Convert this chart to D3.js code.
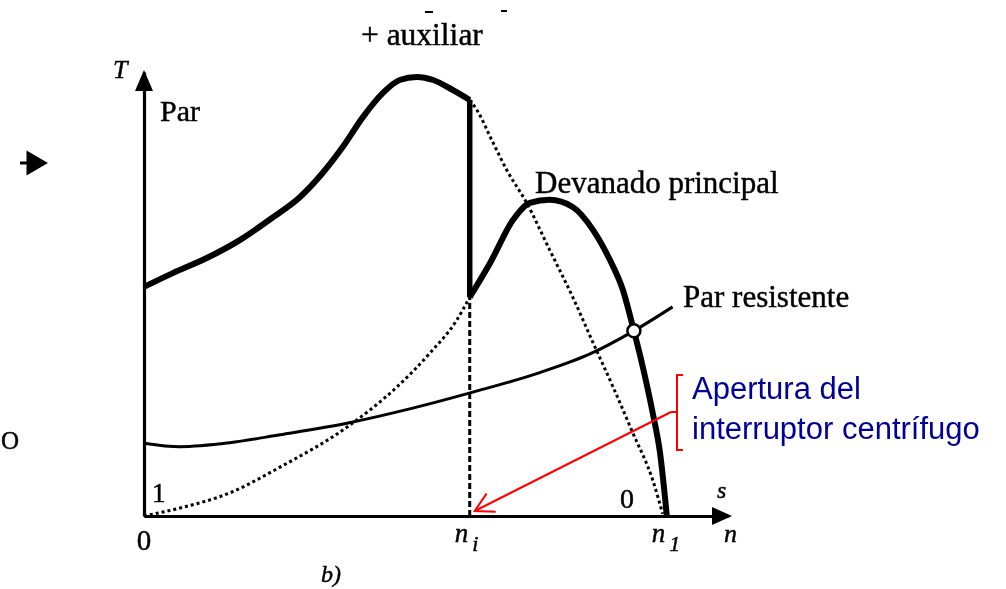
<!DOCTYPE html>
<html>
<head>
<meta charset="utf-8">
<script src="https://cdn.jsdelivr.net/npm/d3@7"></script>
<style>
  body { margin: 0; background: #fff; }
  svg { display: block; }
</style>
</head>
<body>
<svg id="chart" width="1006" height="589"></svg>
<script>
// Torque–speed curves of a split-phase induction motor.
// Speed n is relative to synchronous speed (n1 = 1); torque T in relative units.

const nI = 0.623;   // speed at which the centrifugal switch opens
const n1 = 1.0;     // synchronous speed

// Main + auxiliary winding (solid up to nI)
const speedAux  = [0, 0.055, 0.120, 0.184, 0.247, 0.298, 0.342, 0.380, 0.419, 0.457, 0.489, 0.522, 0.553, 0.591, 0.623];
const torqueAux = [51.6, 54.7, 58.1, 62.2, 67.3, 71.8, 77.3, 83.1, 89.9, 95.3, 98.2, 98.9, 98.2, 95.9, 93.7];

// Main + auxiliary winding continued beyond nI (dotted)
const speedAuxExt  = [0.623, 0.637, 0.665, 0.694, 0.732, 0.776, 0.820, 0.859, 0.897, 0.935, 0.973, 0.992];
const torqueAuxExt = [93.7, 91.4, 84.7, 77.9, 70.5, 59.9, 49.3, 39.0, 29.1, 18.7, 8.1, 0.5];

// Main winding alone, low-speed part (dotted)
const speedMainLow  = [0, 0.069, 0.164, 0.260, 0.388, 0.484, 0.547, 0.598, 0.623];
const torqueMainLow = [0, 1.8, 5.2, 11.0, 20.0, 29.1, 36.7, 44.1, 49.3];

// Main winding alone after the switch opens (solid)
const speedMain  = [0.623, 0.662, 0.706, 0.738, 0.776, 0.820, 0.859, 0.891, 0.916, 0.937, 0.954, 0.973, 0.987, 1.0];
const torqueMain = [49.3, 57.0, 66.7, 70.5, 71.2, 69.6, 64.4, 57.7, 50.9, 41.7, 33.6, 23.2, 14.2, 0];

// Load (resisting) torque
const speedLoad  = [0, 0.069, 0.164, 0.260, 0.388, 0.514, 0.629, 0.757, 0.853, 0.937, 1.011];
const torqueLoad = [16.4, 15.6, 16.5, 18.3, 20.9, 24.3, 27.9, 32.3, 36.5, 41.7, 47.1];

// Operating point (main winding meets load torque)
const opSpeed = 0.937, opTorque = 41.7;

const xMax = 1.117, yMax = 100;

const svg = d3.select("#chart");
const x = d3.scaleLinear().domain([0, xMax]).range([144, 728]);
const y = d3.scaleLinear().domain([0, yMax]).range([516, 72]);

const defs = svg.append("defs");
defs.append("filter").attr("id", "soft")
  .append("feGaussianBlur").attr("stdDeviation", 0.55);

const fig = svg.append("g").attr("filter", "url(#soft)");

const line = d3.line()
  .x(d => x(d[0])).y(d => y(d[1]))
  .curve(d3.curveMonotoneX);
const zip = (a, b) => a.map((v, i) => [v, b[i]]);

// Axes
const xAxis = fig.append("g").attr("transform", `translate(0,${y(0)})`)
  .call(d3.axisBottom(x).tickValues([]).tickSize(0).tickSizeOuter(0));
const yAxis = fig.append("g").attr("transform", `translate(${x(0)},0)`)
  .call(d3.axisLeft(y).tickValues([]).tickSize(0).tickSizeOuter(0));
[xAxis, yAxis].forEach(g => g.select(".domain")
  .attr("stroke", "#000").attr("stroke-width", 3.2));

// Axis arrowheads
fig.append("path")
  .attr("d", `M${x(0)},${y(yMax) - 2} L${x(0) - 9},${y(yMax) + 19} L${x(0) + 9},${y(yMax) + 19} Z`)
  .attr("fill", "#000");
fig.append("path")
  .attr("d", `M${x(xMax) + 4},${y(0)} L${x(xMax) - 16},${y(0) - 9} L${x(xMax) - 16},${y(0) + 9} Z`)
  .attr("fill", "#000");

// Dashed marker at nI
fig.append("line")
  .attr("x1", x(nI)).attr("x2", x(nI))
  .attr("y1", y(0)).attr("y2", y(torqueMain[0]))
  .attr("stroke", "#000").attr("stroke-width", 3).attr("stroke-dasharray", "6,3");

// Dotted curves
[[speedAuxExt, torqueAuxExt], [speedMainLow, torqueMainLow]].forEach(([s, t]) => {
  fig.append("path").attr("d", line(zip(s, t)))
    .attr("fill", "none").attr("stroke", "#000")
    .attr("stroke-width", 3).attr("stroke-dasharray", "3,3");
});

// Load torque
fig.append("path").attr("d", line(zip(speedLoad, torqueLoad)))
  .attr("fill", "none").attr("stroke", "#000").attr("stroke-width", 3);

// Thick motor torque: main+aux up to nI, drop at nI, then main only
fig.append("path").attr("d", line(zip(speedAux, torqueAux)))
  .attr("fill", "none").attr("stroke", "#000").attr("stroke-width", 6)
  .attr("stroke-linejoin", "round");
fig.append("line")
  .attr("x1", x(nI)).attr("x2", x(nI))
  .attr("y1", y(torqueAux[torqueAux.length - 1])).attr("y2", y(torqueMain[0]))
  .attr("stroke", "#000").attr("stroke-width", 5.5);
fig.append("path").attr("d", line(zip(speedMain, torqueMain)))
  .attr("fill", "none").attr("stroke", "#000").attr("stroke-width", 6)
  .attr("stroke-linejoin", "round");

// Operating point
fig.append("circle").attr("cx", x(opSpeed)).attr("cy", y(opTorque)).attr("r", 6.5)
  .attr("fill", "#fff").attr("stroke", "#000").attr("stroke-width", 2.5);

// Figure text
const serif = "'Liberation Serif', 'Times New Roman', serif";
const txt = (tx, ty, s, size, italic) => fig.append("text")
  .attr("x", tx).attr("y", ty).text(s)
  .attr("font-family", serif).attr("font-size", size)
  .attr("font-style", italic ? "italic" : "normal")
  .attr("fill", "#000").attr("stroke", "#000").attr("stroke-width", 0.45);

txt(113, 78, "T", 26, true);
txt(160, 121, "Par", 30);
txt(361, 45, "+ auxiliar", 31.5);
txt(535, 193, "Devanado principal", 31);
txt(683, 307, "Par resistente", 31);
txt(152, 502, "1", 27);
txt(x(0), 550, "0", 29).attr("text-anchor", "middle");
txt(620, 508, "0", 28);
txt(717, 498, "s", 24, true);
txt(724, 542, "n", 26, true);
txt(321, 582, "b)", 24, true);

// Tick labels with subscripts
const xTickLabels = [{ v: nI, base: "n", sub: "i" }, { v: n1, base: "n", sub: "1" }];
xTickLabels.forEach(d => {
  const t = fig.append("text").attr("x", x(d.v) - 15).attr("y", 542)
    .attr("font-family", serif).attr("font-size", 27).attr("font-style", "italic")
    .attr("stroke", "#000").attr("stroke-width", 0.45);
  t.append("tspan").text(d.base);
  t.append("tspan").attr("dx", 4).attr("dy", 9).attr("font-size", 22).text(d.sub);
});

// Stray marks at the top edge and on the left side
fig.append("line").attr("x1", 425).attr("x2", 433).attr("y1", 12).attr("y2", 12)
  .attr("stroke", "#000").attr("stroke-width", 2);
fig.append("line").attr("x1", 501).attr("x2", 507).attr("y1", 11).attr("y2", 11)
  .attr("stroke", "#000").attr("stroke-width", 2);
fig.append("path").attr("d", "M20,163 H30 M28,153 L45,163 L28,173 Z")
  .attr("fill", "#000").attr("stroke", "#000").attr("stroke-width", 3);
txt(1, 449, "O", 25);

// Annotation: centrifugal switch opening
const red = "#ff0000";
const ann = svg.append("g");
ann.append("path").attr("d", "M683,375 H677 V450 H683 M677,412 H671")
  .attr("fill", "none").attr("stroke", red).attr("stroke-width", 2);
const tip = [x(nI) + 5, y(0) - 5];
const from = [671, 412];
ann.append("line").attr("x1", from[0]).attr("y1", from[1]).attr("x2", tip[0]).attr("y2", tip[1])
  .attr("stroke", red).attr("stroke-width", 2);
const ang = Math.atan2(from[1] - tip[1], from[0] - tip[0]);
const arm = 21, spread = 29 * Math.PI / 180;
ann.append("path")
  .attr("d", `M${tip[0] + arm * Math.cos(ang - spread)},${tip[1] + arm * Math.sin(ang - spread)} L${tip[0]},${tip[1]} L${tip[0] + arm * Math.cos(ang + spread)},${tip[1] + arm * Math.sin(ang + spread)}`)
  .attr("fill", "none").attr("stroke", red).attr("stroke-width", 2);

const annLines = ["Apertura del", "interruptor centrífugo"];
ann.selectAll("text.note").data(annLines).join("text").attr("class", "note")
  .attr("x", 692).attr("y", (d, i) => 399 + i * 40)
  .attr("font-family", "'Liberation Sans', Arial, sans-serif").attr("font-size", 31)
  .attr("fill", "#000099").text(d => d);
</script>
</body>
</html>
